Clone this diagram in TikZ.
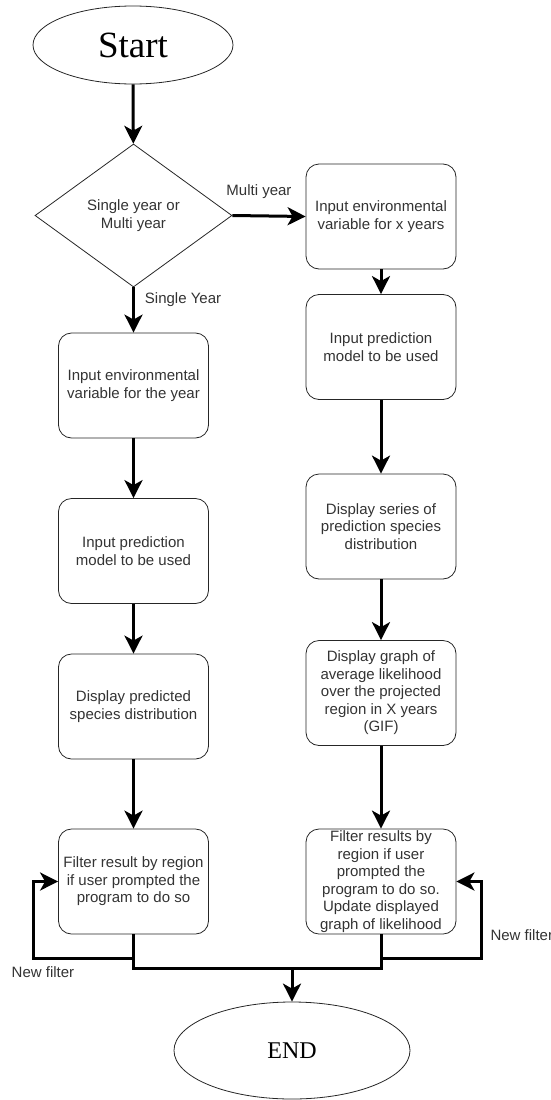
\documentclass[tikz,border=0pt]{standalone}
\usepackage{fontspec}
\setmainfont{Liberation Sans}
\newfontfamily\termfont{Liberation Serif}
\usetikzlibrary{shapes.geometric,arrows.meta}

\begin{document}
\begin{tikzpicture}[
    x=1pt, y=-1pt,
    block/.style={
      rectangle,
      draw=black!85,
      thick,
      align=center,
      rounded corners=13pt,
      inner sep=0pt,
      text=black!80,
      font=\fontsize{15}{17.5}\selectfont,
      minimum height=105pt,
	  minimum width=150pt
    },
    decision/.style={
      diamond,
      draw=black!85,
      thick,
      align=center,
      inner sep=0pt,
      text=black!80,
      font=\fontsize{15}{17.5}\selectfont,
      minimum width=197pt,
      minimum height=143pt
    },
    terminal/.style={
      ellipse,
      draw=black!85,
      thick,
      inner sep=0pt
    },
    arrow/.style={
      line width=3pt,
      -{Stealth[length=18pt, width=18pt, inset=5pt]}
    },
    line/.style={
      line width=3pt
    },
    label/.style={
      text=black!80,
      font=\fontsize{15}{17.5}\selectfont
    },
]

\useasboundingbox (0,0) rectangle (551,1100);

\node[terminal, minimum width=200pt, minimum height=78pt, font=\termfont\fontsize{37}{42}\selectfont] (start) at (133,45) {Start};
\node[decision] (choice) at (133.5,215.5) {Single year or\\Multi year};

% single year column
\node[block] (envYear) at (133.5,385.5) {Input environmental\\variable for the year};
\node[block] (modelL) at (133.5,551) {Input prediction\\model to be used};
\node[block] (dispL) at (133.5,706.5) {Display predicted\\species distribution};
\node[block] (filterL) at (133.5,881.5) {Filter result by region\\if user prompted the\\program to do so};

% multi year column
\node[block] (envX) at (381,216.5) {Input environmental\\variable for x years};
\node[block] (modelR) at (381,347) {Input prediction\\model to be used};
\node[block] (seriesR) at (381,526.5) {Display series of\\prediction species\\distribution};
\node[block] (graphR) at (381,693) {Display graph of\\average likelihood\\over the projected\\region in X years\\(GIF)};
\node[block] (filterR) at (381,881.5) {Filter results by\\region if user\\prompted the\\program to do so.\\Update displayed\\graph of likelihood};

\node[terminal, minimum width=236pt, minimum height=97pt, font=\termfont\fontsize{24}{29}\selectfont] (end) at (292,1050.5) {END};

\coordinate (join) at (292,968);
\coordinate (loopL) at (33,958);
\coordinate (loopR) at (481,958);

\draw[arrow] (start) -- (choice);
\draw[arrow] (choice.east) -- (envX.west);
\draw[arrow] (choice.south) -- (envYear.north);
\draw[arrow] (envYear) -- (modelL);
\draw[arrow] (modelL) -- (dispL);
\draw[arrow] (dispL) -- (filterL);
\draw[arrow] (envX) -- (modelR);
\draw[arrow] (modelR) -- (seriesR);
\draw[arrow] (seriesR) -- (graphR);
\draw[arrow] (graphR) -- (filterR);

\draw[line] (filterL.south) |- (join) -| (filterR.south);
\draw[arrow] (join) -- (end.north);
\draw[arrow] (filterL.south |- loopL) -- (loopL) |- (filterL.west);
\draw[arrow] (filterR.south |- loopR) -- (loopR) |- (filterR.east);

\node[label] (multiLabel) at (259,192) {Multi year};
\node[label] (singleLabel) at (183,300) {Single Year};
\node[label] (newL) at (43,972) {New filter};
\node[label, anchor=west] (newR) at (487,935) {New filter};

\end{tikzpicture}
\end{document}
